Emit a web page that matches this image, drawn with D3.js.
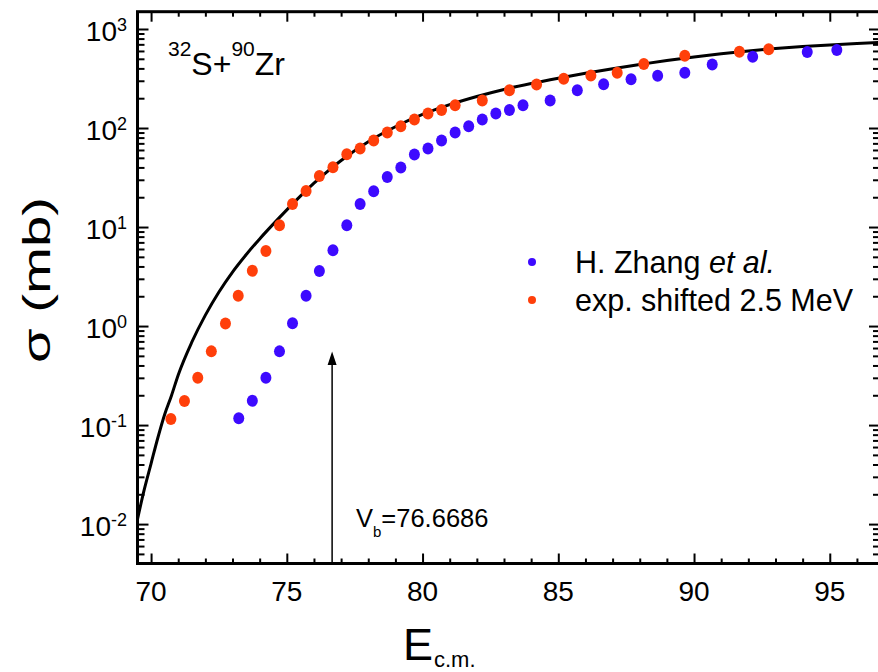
<!DOCTYPE html>
<html>
<head>
<meta charset="utf-8">
<script src="https://cdn.jsdelivr.net/npm/d3@7"></script>
<style>
  body { margin: 0; background: #fff; }
  svg { display: block; font-family: "Liberation Sans", Arial, sans-serif; }
</style>
</head>
<body>
<div id="chart-area"></div>
<script>
// data
var zhangE = [73.23, 73.73, 74.23, 74.73, 75.21, 75.71, 76.20, 76.70, 77.21, 77.70, 78.20, 78.70, 79.20, 79.70, 80.20, 80.70, 81.20, 81.70, 82.20, 82.70, 83.20, 83.70, 84.70, 85.70, 86.67, 87.68, 88.66, 89.66, 90.67, 92.16, 94.17, 95.26];
var zhangSigma = [0.117, 0.176, 0.30, 0.555, 1.07, 2.02, 3.6, 5.82, 10.4, 17.1, 23, 32, 40, 54, 62, 75, 90, 104, 122, 140, 152, 170, 190, 240, 276, 310, 337, 362, 439, 525, 586, 614];

var shiftedE = [70.73, 71.23, 71.72, 72.22, 72.74, 73.21, 73.73, 74.23, 74.73, 75.21, 75.71, 76.20, 76.70, 77.21, 77.70, 78.20, 78.70, 79.20, 79.70, 80.20, 80.70, 81.20, 82.20, 83.20, 84.20, 85.20, 86.20, 87.17, 88.15, 89.66, 91.67, 92.75];
var shiftedSigma = [0.115, 0.175, 0.30, 0.555, 1.06, 2.02, 3.62, 5.73, 10.4, 17.1, 23.1, 32.7, 40.1, 54.2, 62, 75, 90, 104, 122, 140, 152, 170, 190, 240, 275, 315, 340, 362, 443, 537, 590, 624];

var curveE = [69.5, 69.75, 70, 70.25, 70.5, 70.75, 71, 71.5, 72, 72.5, 73, 73.5, 74, 74.5, 75, 75.5, 76, 76.5, 77, 78, 79, 80, 81, 82, 83, 84, 85, 86, 87, 88, 89, 90, 91, 92, 93, 94, 95, 96, 96.85];
var curveSigma = [0.0112, 0.0224, 0.0409, 0.0745, 0.128, 0.198, 0.321, 0.687, 1.29, 2.21, 3.51, 5.25, 7.59, 10.7, 14.9, 20.5, 27.7, 36.5, 47.0, 72.8, 103, 137, 172, 208, 245, 281, 318, 357, 397, 438, 481, 522, 562, 600, 634, 664, 690, 713, 731];

var xTicks = [70, 75, 80, 85, 90, 95];
var yTicks = [-2, -1, 0, 1, 2, 3];
var vb = 76.6686;

var width = 878;
var height = 672;
var plot = {left: 137.5, top: 11.7, right: 880, bottom: 563.5};

var svg = d3.select("#chart-area")
  .append("svg")
    .attr("width", width)
    .attr("height", height);

//Scales
var x = d3.scaleLinear()
  .domain([69.5, 96.85])
  .range([plot.left, plot.right]);

var y = d3.scaleLog()
  .domain([0.004, 1495])
  .range([plot.bottom, plot.top]);

var minorX = d3.range(70, 97, 1).filter(d => d % 5 != 0);
var minorY = [];
for (var e = -3; e <= 3; e++) {
  for (var m = 2; m <= 9; m++) {
    var v = m * Math.pow(10, e);
    if (v > 0.004 && v < 1495) minorY.push(v);
  }
}

//Axes (ticks pointing inward)
function tickAxis(axis, scale, values, size, transform) {
  svg.append("g")
    .attr("transform", transform)
    .call(axis(scale).tickValues(values).tickSize(size).tickFormat(""))
    .call(g => g.select(".domain").remove())
    .call(g => g.selectAll("line").attr("stroke", "#000").attr("stroke-width", 2));
}
var yMajor = yTicks.map(d => Math.pow(10, d));
tickAxis(d3.axisBottom, x, xTicks, -10, "translate(0," + plot.bottom + ")");
tickAxis(d3.axisBottom, x, minorX, -5, "translate(0," + plot.bottom + ")");
tickAxis(d3.axisTop, x, xTicks, -10, "translate(0," + plot.top + ")");
tickAxis(d3.axisTop, x, minorX, -5, "translate(0," + plot.top + ")");
tickAxis(d3.axisLeft, y, yMajor, -11, "translate(" + plot.left + ",0)");
tickAxis(d3.axisLeft, y, minorY, -7, "translate(" + plot.left + ",0)");
tickAxis(d3.axisRight, y, yMajor, -11, "translate(" + plot.right + ",0)");
tickAxis(d3.axisRight, y, minorY, -7, "translate(" + plot.right + ",0)");

svg.append("rect")
  .attr("x", plot.left)
  .attr("y", plot.top)
  .attr("width", plot.right - plot.left)
  .attr("height", plot.bottom - plot.top)
  .attr("fill", "none")
  .attr("stroke", "#000")
  .attr("stroke-width", 3);

//Tick labels
svg.selectAll(".xlab")
  .data(xTicks)
  .enter().append("text")
    .attr("x", d => x(d))
    .attr("y", 601)
    .style("text-anchor", "middle")
    .style("font-size", "28px")
    .text(d => d);

var ylab = svg.selectAll(".ylab")
  .data(yTicks)
  .enter().append("text")
    .attr("x", 127)
    .attr("y", d => y(Math.pow(10, d)) + 12)
    .style("text-anchor", "end")
    .style("font-size", "28px");
ylab.append("tspan").text("10");
ylab.append("tspan")
  .attr("dy", -10)
  .style("font-size", "18px")
  .text(d => d);

//Axis titles
svg.append("text")
  .attr("x", 403)
  .attr("y", 660)
  .style("font-size", "45px")
  .text("E");
svg.append("text")
  .attr("x", 434)
  .attr("y", 667)
  .style("font-size", "22px")
  .text("c.m.");

svg.append("text")
  .attr("transform", "translate(50, 280) rotate(-90)")
  .style("text-anchor", "middle")
  .style("font-size", "38px")
  .attr("textLength", 166)
  .attr("lengthAdjust", "spacingAndGlyphs")
  .text("\u03c3 (mb)");

//Reaction label
var rl = svg.append("text")
  .attr("x", 168)
  .attr("y", 75)
  .style("font-size", "32px");
rl.append("tspan").attr("dy", -19).style("font-size", "21px").text("32");
rl.append("tspan").attr("dy", 19).text("S+");
rl.append("tspan").attr("dy", -19).style("font-size", "21px").text("90");
rl.append("tspan").attr("dy", 19).text("Zr");

//Curve
var line = d3.line()
  .x(d => x(d[0]))
  .y(d => y(d[1]))
  .curve(d3.curveMonotoneX);

svg.append("clipPath").attr("id", "clip")
  .append("rect")
    .attr("x", plot.left).attr("y", plot.top)
    .attr("width", plot.right - plot.left).attr("height", plot.bottom - plot.top);

svg.append("path")
  .datum(curveE.map((d, i) => [d, curveSigma[i]]))
  .attr("clip-path", "url(#clip)")
  .attr("fill", "none")
  .attr("stroke", "#000")
  .attr("stroke-width", 3)
  .attr("d", line);

//Points
var blue = "#3d0aff";
var orange = "#ff3f0a";

svg.selectAll(".zhang")
  .data(zhangE.map((d, i) => [d, zhangSigma[i]]))
  .enter().append("ellipse")
    .attr("cx", d => x(d[0]))
    .attr("cy", d => y(d[1]))
    .attr("rx", 5.5)
    .attr("ry", 6)
    .attr("fill", blue);

svg.selectAll(".shifted")
  .data(shiftedE.map((d, i) => [d, shiftedSigma[i]]))
  .enter().append("ellipse")
    .attr("cx", d => x(d[0]))
    .attr("cy", d => y(d[1]))
    .attr("rx", 5.5)
    .attr("ry", 6)
    .attr("fill", orange);

//Legend
var legend = [
  {label: ["H. Zhang ", "et al."], color: blue, y: 262},
  {label: ["exp. shifted 2.5 MeV", ""], color: orange, y: 300}
];
legend.forEach(function(l) {
  svg.append("circle")
    .attr("cx", 532)
    .attr("cy", l.y)
    .attr("r", 4)
    .attr("fill", l.color);
  var t = svg.append("text")
    .attr("x", 575)
    .attr("y", l.y + 11)
    .style("font-size", "30.5px");
  t.append("tspan").text(l.label[0]);
  t.append("tspan").style("font-style", "italic").text(l.label[1]);
});

//Barrier arrow
svg.append("line")
  .attr("x1", x(vb)).attr("x2", x(vb))
  .attr("y1", plot.bottom).attr("y2", 355)
  .attr("stroke", "#000")
  .attr("stroke-width", 1.5);
svg.append("path")
  .attr("d", "M" + (x(vb) - 4.5) + ",365 L" + x(vb) + ",351.5 L" + (x(vb) + 4.5) + ",365 Z")
  .attr("fill", "#000");

var vt = svg.append("text")
  .attr("x", 356)
  .attr("y", 527)
  .style("font-size", "25.5px");
vt.append("tspan").text("V");
vt.append("tspan").attr("dy", 10).style("font-size", "15px").text("b");
vt.append("tspan").attr("dy", -10).text("=76.6686");
</script>
</body>
</html>
